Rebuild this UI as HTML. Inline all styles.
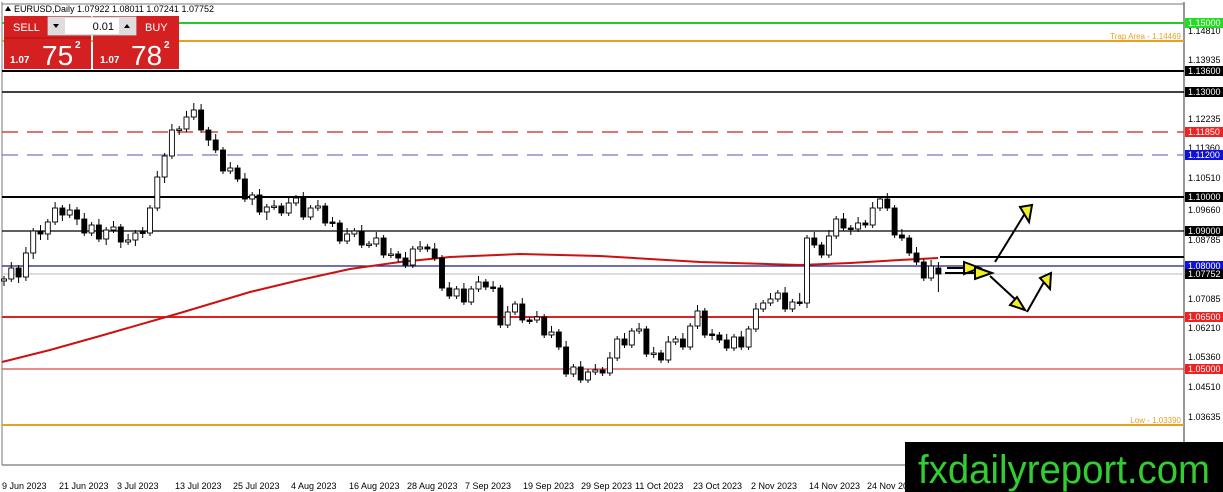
<!DOCTYPE html>
<html><head><meta charset="utf-8"><style>
html,body{margin:0;padding:0;background:#fff;width:1223px;height:492px;overflow:hidden;font-family:"Liberation Sans",sans-serif}
svg{position:absolute;left:0;top:0}
.w{fill:#fff;stroke:#000;stroke-width:0.9}
.b{fill:#000;stroke:#000;stroke-width:0.9}
</style></head><body>
<svg width="1223" height="492" xmlns="http://www.w3.org/2000/svg" font-family="Liberation Sans, sans-serif">
<rect x="0" y="0" width="1223" height="492" fill="#fff"/>
<line x1="2" y1="2" x2="2" y2="465" stroke="#777" stroke-width="1"/>
<line x1="1184" y1="2" x2="1184" y2="465" stroke="#777" stroke-width="1.5"/>
<line x1="2" y1="465" x2="1184" y2="465" stroke="#555" stroke-width="1"/>
<line x1="2" y1="4" x2="1184" y2="4" stroke="#777" stroke-width="1"/>
<line x1="2" y1="23" x2="1184" y2="23" stroke="#22cc22" stroke-width="2"/>
<line x1="2" y1="41" x2="1184" y2="41" stroke="#e8a020" stroke-width="2"/>
<line x1="2" y1="71" x2="1184" y2="71" stroke="#000" stroke-width="2"/>
<line x1="2" y1="92" x2="1184" y2="92" stroke="#000" stroke-width="1.6"/>
<line x1="2" y1="132" x2="1184" y2="132" stroke="#cc2222" stroke-width="1.2" stroke-dasharray="16,9"/>
<line x1="2" y1="155" x2="1184" y2="155" stroke="#7777bb" stroke-width="1.3" stroke-dasharray="16,9"/>
<line x1="2" y1="197" x2="1184" y2="197" stroke="#000" stroke-width="2"/>
<line x1="2" y1="231" x2="1184" y2="231" stroke="#000" stroke-width="1.3"/>
<line x1="940" y1="257" x2="1184" y2="257" stroke="#000" stroke-width="2"/>
<line x1="2" y1="266" x2="1184" y2="266" stroke="#1a1a80" stroke-width="1.2"/>
<line x1="2" y1="274" x2="1184" y2="274" stroke="#bbb" stroke-width="1"/>
<line x1="2" y1="317" x2="1184" y2="317" stroke="#dd2222" stroke-width="2"/>
<line x1="2" y1="369" x2="1184" y2="369" stroke="#dd4444" stroke-width="1.2"/>
<line x1="2" y1="425" x2="1184" y2="425" stroke="#e8a020" stroke-width="2"/>
<text x="1181" y="39" font-size="8" fill="#e8a020" text-anchor="end">Trap Area - 1.14469</text>
<text x="1181" y="423" font-size="8" fill="#e8a020" text-anchor="end">Low - 1.03390</text>
<polyline fill="none" stroke="#cc1111" stroke-width="2" points="2,362 50,350 100,336 180,313 250,292 300,280 350,269 400,262 450,257 520,254 600,256 700,262 800,265 850,263 900,260 938,258"/>
<path stroke="#000" stroke-width="1" fill="none" d="M4,276V286 M11.3,262V282 M18.6,265V283 M25.9,247V281 M33.2,228V259 M40.5,225V240 M47.8,219V240 M55.1,202V225 M62.4,205V221 M69.7,204V218 M77,207V225 M84.3,213V236 M91.6,222V236 M98.9,219V242 M106.2,227V245 M113.5,221V233 M120.8,224V248 M128.1,234V245 M135.4,230V246 M142.7,227V238 M150,205V236 M157.3,171V211 M164.6,153V183 M171.9,124V159 M179.2,126V135 M186.5,111V132 M193.8,103V120 M201.1,104V133 M208.4,127V146 M215.7,134V153 M223,147V174 M230.3,162V174 M237.6,165V182 M244.9,173V202 M252.2,192V205 M259.5,189V215 M266.8,204V220 M274.1,200V210 M281.4,203V216 M288.7,197V216 M296,195V206 M303.3,192V220 M310.6,205V220 M317.9,200V211 M325.2,203V226 M332.5,217V227 M339.8,220V244 M347.1,228V244 M354.4,228V237 M361.7,225V248 M369,241V248 M376.3,232V247 M383.6,235V258 M390.9,248V258 M398.2,251V262 M405.5,252V268 M412.8,246V268 M420.1,241V252 M427.4,244V252 M434.7,243V261 M442,255V291 M449.3,282V299 M456.6,286V299 M463.9,283V305 M471.2,286V305 M478.5,276V292 M485.8,279V290 M493.1,281V292 M500.4,285V328 M507.7,306V328 M515,301V315 M522.3,298V323 M529.6,317V324 M536.9,311V323 M544.2,314V338 M551.5,326V338 M558.8,329V350 M566.1,341V377 M573.4,364V377 M580.7,361V383 M588,369V383 M595.3,364V375 M602.6,367V376 M609.9,352V376 M617.2,336V361 M624.5,333V348 M631.8,328V348 M639.1,323V334 M646.4,326V357 M653.7,347V358 M661,350V363 M668.3,336V363 M675.6,336V345 M682.9,333V350 M690.2,323V350 M697.5,305V329 M704.8,308V338 M712.1,329V340 M719.4,332V343 M726.7,334V351 M734,334V351 M741.3,331V350 M748.6,326V350 M755.9,303V332 M763.2,300V312 M770.5,293V306 M777.8,290V302 M785.1,287V312 M792.4,299V312 M799.7,293V306 M807,235V308 M814.3,232V248 M821.6,242V258 M828.9,230V258 M836.2,216V239 M843.5,213V231 M850.8,225V235 M858.1,217V232 M865.4,220V228 M872.7,202V228 M880,196V211 M887.3,193V211 M894.6,205V238 M901.9,229V241 M909.2,235V256 M916.5,247V265 M923.8,259V281 M931.1,260V281 M938.4,262V292"/>
<g>
<rect class="w" x="1.5" y="279" width="5" height="2"/>
<rect class="w" x="8.8" y="268" width="5" height="11"/>
<rect class="b" x="16.1" y="268" width="5" height="9"/>
<rect class="w" x="23.4" y="253" width="5" height="24"/>
<rect class="w" x="30.7" y="231" width="5" height="22"/>
<rect class="b" x="38" y="231" width="5" height="3"/>
<rect class="w" x="45.3" y="222" width="5" height="12"/>
<rect class="w" x="52.6" y="208" width="5" height="14"/>
<rect class="b" x="59.9" y="208" width="5" height="7"/>
<rect class="w" x="67.2" y="210" width="5" height="5"/>
<rect class="b" x="74.5" y="210" width="5" height="9"/>
<rect class="b" x="81.8" y="219" width="5" height="14"/>
<rect class="w" x="89.1" y="225" width="5" height="8"/>
<rect class="b" x="96.4" y="225" width="5" height="14"/>
<rect class="w" x="103.7" y="230" width="5" height="9"/>
<rect class="w" x="111" y="227" width="5" height="3"/>
<rect class="b" x="118.3" y="227" width="5" height="15"/>
<rect class="w" x="125.6" y="240" width="5" height="2"/>
<rect class="w" x="132.9" y="233" width="5" height="7"/>
<rect class="b" x="140.2" y="232" width="5" height="1.5"/>
<rect class="w" x="147.5" y="208" width="5" height="25"/>
<rect class="w" x="154.8" y="177" width="5" height="31"/>
<rect class="w" x="162.1" y="156" width="5" height="21"/>
<rect class="w" x="169.4" y="130" width="5" height="26"/>
<rect class="w" x="176.7" y="129" width="5" height="1.5"/>
<rect class="w" x="184" y="117" width="5" height="12"/>
<rect class="w" x="191.3" y="110" width="5" height="7"/>
<rect class="b" x="198.6" y="110" width="5" height="20"/>
<rect class="b" x="205.9" y="130" width="5" height="10"/>
<rect class="b" x="213.2" y="140" width="5" height="10"/>
<rect class="b" x="220.5" y="150" width="5" height="21"/>
<rect class="w" x="227.8" y="168" width="5" height="3"/>
<rect class="b" x="235.1" y="168" width="5" height="11"/>
<rect class="b" x="242.4" y="179" width="5" height="20"/>
<rect class="w" x="249.7" y="195" width="5" height="4"/>
<rect class="b" x="257" y="195" width="5" height="17"/>
<rect class="w" x="264.3" y="207" width="5" height="5"/>
<rect class="w" x="271.6" y="206" width="5" height="1.5"/>
<rect class="b" x="278.9" y="206" width="5" height="7"/>
<rect class="w" x="286.2" y="203" width="5" height="10"/>
<rect class="w" x="293.5" y="198" width="5" height="5"/>
<rect class="b" x="300.8" y="198" width="5" height="19"/>
<rect class="w" x="308.1" y="208" width="5" height="9"/>
<rect class="w" x="315.4" y="206" width="5" height="2"/>
<rect class="b" x="322.7" y="206" width="5" height="17"/>
<rect class="b" x="330" y="222" width="5" height="1.5"/>
<rect class="b" x="337.3" y="223" width="5" height="18"/>
<rect class="w" x="344.6" y="234" width="5" height="7"/>
<rect class="w" x="351.9" y="231" width="5" height="3"/>
<rect class="b" x="359.2" y="231" width="5" height="14"/>
<rect class="w" x="366.5" y="244" width="5" height="1.5"/>
<rect class="w" x="373.8" y="238" width="5" height="6"/>
<rect class="b" x="381.1" y="238" width="5" height="17"/>
<rect class="w" x="388.4" y="254" width="5" height="1.5"/>
<rect class="b" x="395.7" y="254" width="5" height="4"/>
<rect class="b" x="403" y="258" width="5" height="7"/>
<rect class="w" x="410.3" y="249" width="5" height="16"/>
<rect class="w" x="417.6" y="247" width="5" height="2"/>
<rect class="b" x="424.9" y="247" width="5" height="2"/>
<rect class="b" x="432.2" y="249" width="5" height="9"/>
<rect class="b" x="439.5" y="258" width="5" height="30"/>
<rect class="b" x="446.8" y="288" width="5" height="8"/>
<rect class="w" x="454.1" y="289" width="5" height="7"/>
<rect class="b" x="461.4" y="289" width="5" height="13"/>
<rect class="w" x="468.7" y="289" width="5" height="13"/>
<rect class="w" x="476" y="282" width="5" height="7"/>
<rect class="b" x="483.3" y="282" width="5" height="5"/>
<rect class="b" x="490.6" y="287" width="5" height="1.5"/>
<rect class="b" x="497.9" y="288" width="5" height="37"/>
<rect class="w" x="505.2" y="312" width="5" height="13"/>
<rect class="w" x="512.5" y="304" width="5" height="8"/>
<rect class="b" x="519.8" y="304" width="5" height="16"/>
<rect class="b" x="527.1" y="320" width="5" height="1.5"/>
<rect class="w" x="534.4" y="317" width="5" height="3"/>
<rect class="b" x="541.7" y="317" width="5" height="18"/>
<rect class="w" x="549" y="332" width="5" height="3"/>
<rect class="b" x="556.3" y="332" width="5" height="15"/>
<rect class="b" x="563.6" y="347" width="5" height="27"/>
<rect class="w" x="570.9" y="367" width="5" height="7"/>
<rect class="b" x="578.2" y="367" width="5" height="13"/>
<rect class="w" x="585.5" y="372" width="5" height="8"/>
<rect class="w" x="592.8" y="370" width="5" height="2"/>
<rect class="b" x="600.1" y="370" width="5" height="3"/>
<rect class="w" x="607.4" y="358" width="5" height="15"/>
<rect class="w" x="614.7" y="339" width="5" height="19"/>
<rect class="b" x="622" y="339" width="5" height="6"/>
<rect class="w" x="629.3" y="331" width="5" height="14"/>
<rect class="w" x="636.6" y="329" width="5" height="2"/>
<rect class="b" x="643.9" y="329" width="5" height="25"/>
<rect class="w" x="651.2" y="353" width="5" height="1.5"/>
<rect class="b" x="658.5" y="353" width="5" height="7"/>
<rect class="w" x="665.8" y="342" width="5" height="18"/>
<rect class="w" x="673.1" y="339" width="5" height="3"/>
<rect class="b" x="680.4" y="339" width="5" height="8"/>
<rect class="w" x="687.7" y="326" width="5" height="21"/>
<rect class="w" x="695" y="311" width="5" height="15"/>
<rect class="b" x="702.3" y="311" width="5" height="24"/>
<rect class="b" x="709.6" y="334" width="5" height="1.5"/>
<rect class="b" x="716.9" y="335" width="5" height="5"/>
<rect class="b" x="724.2" y="340" width="5" height="8"/>
<rect class="w" x="731.5" y="337" width="5" height="11"/>
<rect class="b" x="738.8" y="337" width="5" height="10"/>
<rect class="w" x="746.1" y="329" width="5" height="18"/>
<rect class="w" x="753.4" y="309" width="5" height="20"/>
<rect class="w" x="760.7" y="303" width="5" height="6"/>
<rect class="w" x="768" y="299" width="5" height="4"/>
<rect class="w" x="775.3" y="293" width="5" height="6"/>
<rect class="b" x="782.6" y="293" width="5" height="16"/>
<rect class="w" x="789.9" y="302" width="5" height="7"/>
<rect class="b" x="797.2" y="302" width="5" height="1.5"/>
<rect class="w" x="804.5" y="238" width="5" height="65"/>
<rect class="b" x="811.8" y="238" width="5" height="7"/>
<rect class="b" x="819.1" y="245" width="5" height="10"/>
<rect class="w" x="826.4" y="236" width="5" height="19"/>
<rect class="w" x="833.7" y="219" width="5" height="17"/>
<rect class="b" x="841" y="219" width="5" height="9"/>
<rect class="b" x="848.3" y="228" width="5" height="1.5"/>
<rect class="w" x="855.6" y="223" width="5" height="6"/>
<rect class="b" x="862.9" y="223" width="5" height="2"/>
<rect class="w" x="870.2" y="208" width="5" height="17"/>
<rect class="w" x="877.5" y="199" width="5" height="9"/>
<rect class="b" x="884.8" y="199" width="5" height="9"/>
<rect class="b" x="892.1" y="208" width="5" height="27"/>
<rect class="b" x="899.4" y="235" width="5" height="3"/>
<rect class="b" x="906.7" y="238" width="5" height="15"/>
<rect class="b" x="914" y="253" width="5" height="9"/>
<rect class="b" x="921.3" y="262" width="5" height="16"/>
<rect class="w" x="928.6" y="266" width="5" height="12"/>
<rect class="b" x="935.9" y="268" width="5" height="6"/>
</g>
<g stroke="#000" stroke-width="2" fill="#f0f020">
<line x1="947" y1="268" x2="968" y2="268"/><polygon points="964,262 980,268 964,274"/>
<line x1="945" y1="273" x2="980" y2="273"/><polygon points="975,267 992,273 975,279"/>
<line x1="995" y1="262" x2="1024" y2="215"/><polygon points="1020,207 1032,205 1029,222"/>
<line x1="990" y1="276" x2="1016" y2="300"/><polygon points="1025,310 1010,305 1017,297"/>
<line x1="1027" y1="312" x2="1044" y2="282"/><polygon points="1040,278 1051,273 1050,289"/>
</g>
<g font-size="9" fill="#000">
<text x="1188" y="34">1.14810</text>
<text x="1188" y="63">1.13935</text>
<text x="1188" y="122">1.12235</text>
<text x="1188" y="151">1.11360</text>
<text x="1188" y="181">1.10510</text>
<text x="1188" y="213">1.09660</text>
<text x="1188" y="243">1.08785</text>
<text x="1188" y="302">1.07085</text>
<text x="1188" y="331">1.06210</text>
<text x="1188" y="360">1.05360</text>
<text x="1188" y="390">1.04510</text>
<text x="1188" y="420">1.03635</text>
</g>
<g font-size="9">
<rect x="1185" y="18" width="38" height="10" fill="#22dd22"/><text x="1188" y="26" fill="#fff">1.15000</text>
<rect x="1185" y="66" width="38" height="10" fill="#000"/><text x="1188" y="74" fill="#fff">1.13600</text>
<rect x="1185" y="87" width="38" height="10" fill="#000"/><text x="1188" y="95" fill="#fff">1.13000</text>
<rect x="1185" y="127" width="38" height="10" fill="#ee2222"/><text x="1188" y="135" fill="#fff">1.11850</text>
<rect x="1185" y="150" width="38" height="10" fill="#1010dd"/><text x="1188" y="158" fill="#fff">1.11200</text>
<rect x="1185" y="192" width="38" height="10" fill="#000"/><text x="1188" y="200" fill="#fff">1.10000</text>
<rect x="1185" y="226" width="38" height="10" fill="#000"/><text x="1188" y="234" fill="#fff">1.09000</text>
<rect x="1185" y="261" width="38" height="10" fill="#1010dd"/><text x="1188" y="269" fill="#fff">1.08000</text>
<rect x="1185" y="269" width="38" height="10" fill="#000"/><text x="1188" y="277" fill="#fff">1.07752</text>
<rect x="1185" y="312" width="38" height="10" fill="#ee2222"/><text x="1188" y="320" fill="#fff">1.06500</text>
<rect x="1185" y="364" width="38" height="10" fill="#ee2222"/><text x="1188" y="372" fill="#fff">1.05000</text>
</g>
<g font-size="9" fill="#000">
<text x="2" y="489">9 Jun 2023</text><text x="59" y="489">21 Jun 2023</text><text x="117" y="489">3 Jul 2023</text>
<text x="175" y="489">13 Jul 2023</text><text x="233" y="489">25 Jul 2023</text><text x="291" y="489">4 Aug 2023</text>
<text x="349" y="489">16 Aug 2023</text><text x="407" y="489">28 Aug 2023</text><text x="465" y="489">7 Sep 2023</text>
<text x="523" y="489">19 Sep 2023</text><text x="581" y="489">29 Sep 2023</text><text x="635" y="489">11 Oct 2023</text>
<text x="693" y="489">23 Oct 2023</text><text x="751" y="489">2 Nov 2023</text><text x="809" y="489">14 Nov 2023</text>
<text x="867" y="489">24 Nov 2023</text>
</g>
<rect x="905" y="442" width="318" height="50" fill="#000"/>
<text x="918" y="483" font-size="40" fill="#33cc33" textLength="292" lengthAdjust="spacingAndGlyphs">fxdailyreport.com</text>
<polygon points="5,11 8,6 11,11" fill="#000"/>
<text x="14" y="12" font-size="9" fill="#000">EURUSD,Daily  1.07922 1.08011 1.07241 1.07752</text>
<rect x="4" y="16" width="87" height="53" fill="#d42020"/>
<rect x="93" y="16" width="86" height="53" fill="#d42020"/>
<rect x="48" y="17" width="88" height="18" fill="#fff" stroke="#bbb"/>
<rect x="48" y="17" width="17" height="18" fill="#ddd"/><rect x="119" y="17" width="17" height="18" fill="#ddd"/>
<polygon points="53,24 59,24 56,28" fill="#000"/><polygon points="124,28 130,28 127,24" fill="#000"/>
<text x="114" y="30" font-size="11" text-anchor="end">0.01</text>
<text x="13" y="31" font-size="11" fill="#fff">SELL</text>
<text x="145" y="31" font-size="11" fill="#fff">BUY</text>
<line x1="4" y1="38" x2="91" y2="38" stroke="#b01010"/>
<text x="10" y="63" font-size="10" fill="#fff" font-weight="bold">1.07</text>
<text x="42" y="65" font-size="28" fill="#fff">75</text><text x="75" y="48" font-size="10" fill="#fff" font-weight="bold">2</text>
<text x="100" y="63" font-size="10" fill="#fff" font-weight="bold">1.07</text>
<text x="131" y="65" font-size="28" fill="#fff">78</text><text x="164" y="48" font-size="10" fill="#fff" font-weight="bold">2</text>
</svg>
</body></html>
